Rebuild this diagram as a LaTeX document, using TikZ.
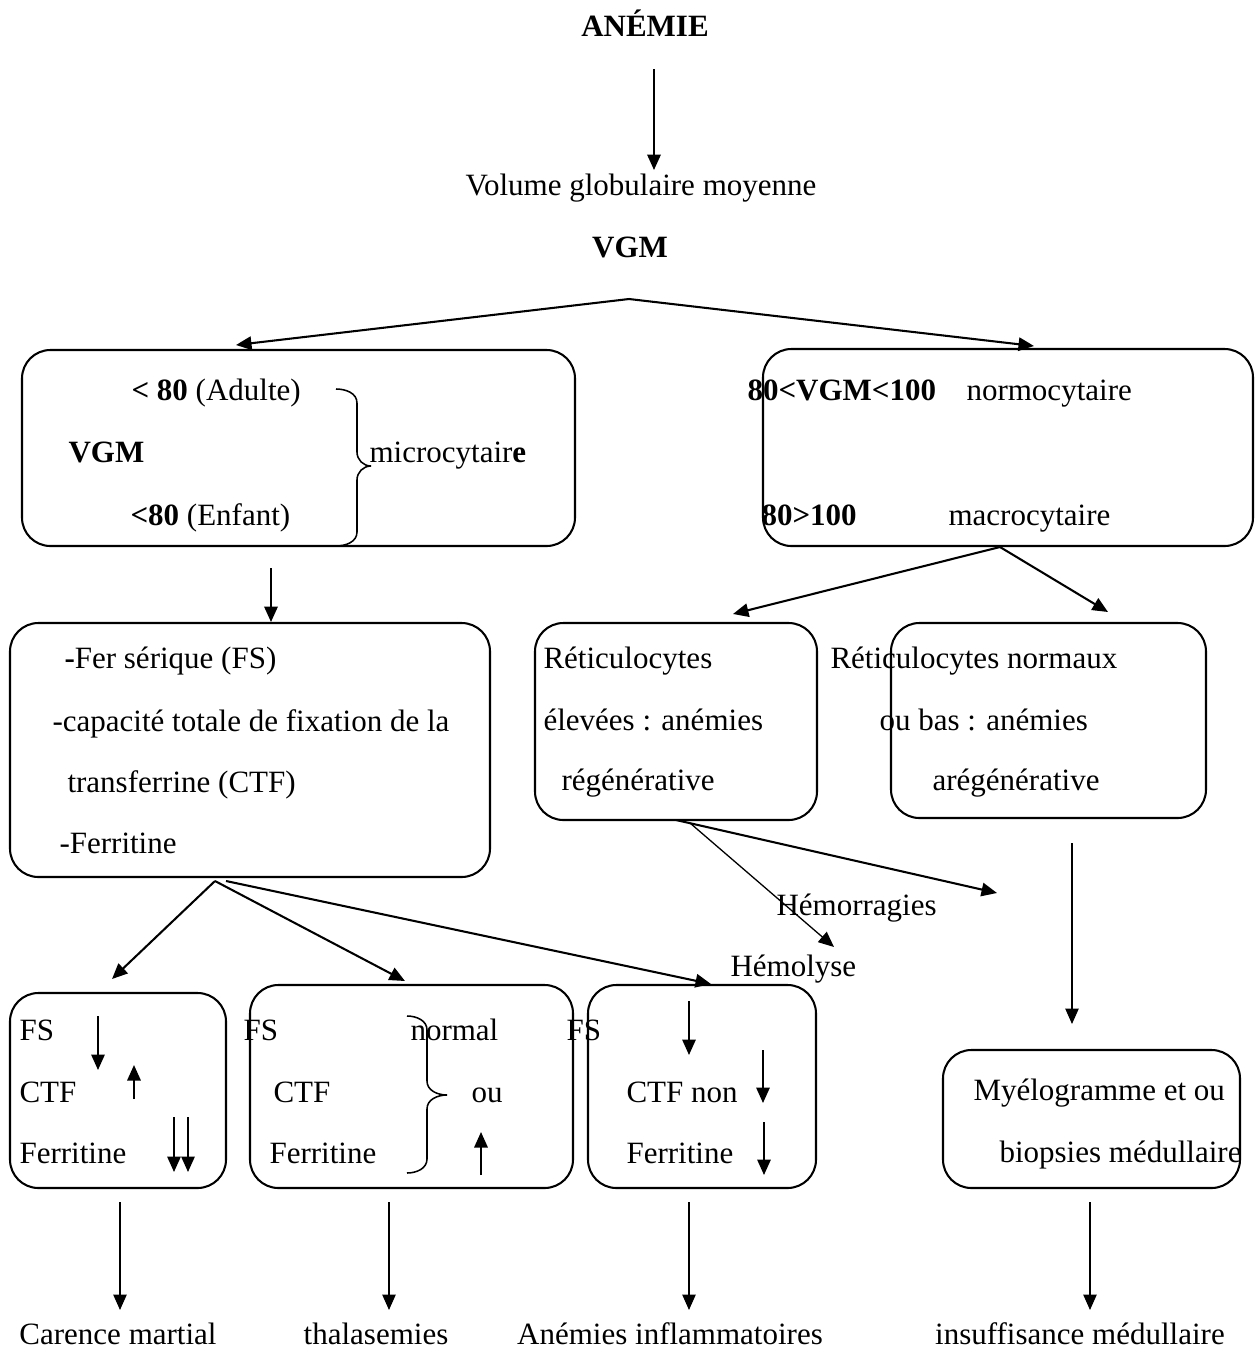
\documentclass[tikz,border=0pt]{standalone}
\usepackage{fontspec}
\setmainfont{Liberation Serif}
\usetikzlibrary{arrows.meta,fit}

\tikzset{
  boite/.style={draw,line width=0.8pt,rounded corners=11pt,inner sep=0pt},
  fleche/.style={line width=0.8pt,-{Triangle[length=6pt,width=5.2pt]}},
  mince/.style={fleche,line width=0.5pt},
  txt/.style={inner sep=0pt,anchor=base west,font=\fontsize{12}{14}\selectfont},
  titre/.style={txt,anchor=base},
  accolade/.style={line width=0.6pt},
}

\begin{document}
\begin{tikzpicture}[x=0.387pt,y=-0.387pt]
\useasboundingbox (0,0) rectangle (1256,1353);

% en-tete
\node[titre] (anemie) at (645,36) {\textbf{ANÉMIE}};
\node[titre] (volume) at (641,195) {Volume globulaire moyenne};
\node[titre] (vgm) at (630,257) {\textbf{VGM}};
\coordinate (a1) at (654,69);
\coordinate (a2) at (654,170);
\draw[fleche] (a1) -- (a2);

% branches du VGM
\coordinate (sommet) at (629,299);
\coordinate (vmicro) at (236,345);
\coordinate (vmacro) at (1034,346);
\draw[fleche] (sommet) -- (vmicro);
\draw[fleche] (sommet) -- (vmacro);

% microcytaire
\node[boite,fit={(22,350) (575,546)}] (micro) {};
\node[txt] (adulte) at (131,400) {\textbf{< 80} (Adulte)};
\node[txt] (vgmg) at (68,462) {\textbf{VGM}};
\node[txt] (enfant) at (130,525) {\textbf{<80} (Enfant)};
\node[txt] (microtxt) at (369,462) {microcytair\textbf{e}};
\draw[accolade] (336,389) to[out=0,in=90] (357,403) -- (357,452)
  to[out=-90,in=180] (371,466) to[out=180,in=90] (357,480) -- (357,532)
  to[out=-90,in=0] (336,546);

% normocytaire / macrocytaire
\node[boite,fit={(763,349) (1253,546)}] (macro) {};
\node[txt] (normo) at (747,400) {\textbf{80<VGM<100}};
\node[txt] (normotxt) at (966,400) {normocytaire};
\node[txt] (cent) at (761,525) {\textbf{80>100}};
\node[txt] (macrotxt) at (948,525) {macrocytaire};

% bilan martial
\coordinate (b1) at (271,568);
\coordinate (b2) at (271,622);
\draw[fleche] (b1) -- (b2);
\node[boite,fit={(10,623) (490,877)}] (fer) {};
\node[txt] (fer1) at (64,668) {\textbf{-}Fer sérique (FS)};
\node[txt] (fer2) at (52,731) {-capacité totale de fixation de la};
\node[txt] (fer3) at (67,792) {transferrine (CTF)};
\node[txt] (fer4) at (59,853) {-Ferritine};

% reticulocytes
\coordinate (pied) at (1000,547);
\coordinate (vregen) at (733,614);
\coordinate (varegen) at (1108,612);
\draw[fleche] (pied) -- (vregen);
\draw[fleche] (pied) -- (varegen);
\node[boite,fit={(535,623) (817,820)}] (regen) {};
\node[txt] (reg1) at (543,668) {Réticulocytes};
\node[txt] (reg2) at (543,730) {élevées : anémies};
\node[txt] (reg3) at (561,790) {régénérative};
\node[boite,fit={(891,623) (1206,818)}] (aregen) {};
\node[txt] (areg1) at (830,668) {Réticulocytes normaux};
\node[txt] (areg2) at (879,730) {ou bas : anémies};
\node[txt] (areg3) at (932,790) {arégénérative};

% causes regeneratives
\coordinate (r1) at (676,820);
\coordinate (r2) at (690,823);
\coordinate (hemo) at (997,893);
\coordinate (lyse) at (834,947);
\draw[fleche] (r1) -- (hemo);
\draw[mince] (r2) -- (lyse);
\node[txt] (hemorragies) at (776,915) {Hémorragies};
\node[txt] (hemolyse) at (730,976) {Hémolyse};

% vers le myelogramme
\coordinate (m1) at (1072,843);
\coordinate (m2) at (1072,1024);
\draw[mince] (m1) -- (m2);

% trois profils
\coordinate (f1) at (215,881);
\coordinate (f2) at (226,881);
\coordinate (vcarence) at (112,979);
\coordinate (vthala) at (405,981);
\coordinate (vinflam) at (711,984);
\draw[fleche] (f1) -- (vcarence);
\draw[fleche] (f1) -- (vthala);
\draw[fleche] (f2) -- (vinflam);

\node[boite,fit={(10,993) (226,1188)}] (carence) {};
\node[txt] at (19,1040) {FS};
\node[txt] at (19,1102) {CTF};
\node[txt] at (19,1163) {Ferritine};

\node[boite,fit={(250,985) (573,1188)}] (thala) {};
\node[txt] at (243,1040) {FS};
\node[txt] at (410,1040) {normal};
\node[txt] at (273,1102) {CTF};
\node[txt] at (471,1102) {ou};
\node[txt] at (269,1163) {Ferritine};
\draw[accolade] (407,1016) to[out=0,in=90] (427,1030) -- (427,1081)
  to[out=-90,in=180] (447,1095) to[out=180,in=90] (427,1109) -- (427,1159)
  to[out=-90,in=0] (407,1173);

\node[boite,fit={(588,985) (816,1188)}] (inflam) {};
\node[txt] at (566,1040) {FS};
\node[txt] at (626,1102) {CTF non};
\node[txt] at (626,1163) {Ferritine};

\node[boite,fit={(943,1050) (1240,1188)}] (myelo) {};
\node[txt] at (973,1100) {Myélogramme et ou};
\node[txt] at (999,1162) {biopsies médullaire};

% fleches hausse / baisse
\foreach \x/\ya/\yb in {98/1016/1070, 134/1099/1065, 174/1117/1172, 188/1117/1172,
  481/1175/1132, 689/1001/1055, 763/1050/1103, 764/1122/1175}{
  \draw[fleche,line width=0.7pt] (\x,\ya) -- (\x,\yb);
}

% diagnostics
\foreach \n/\x/\lx/\t in {1/120/118/Carence martial, 2/389/376/thalasemies,
  3/689/670/Anémies inflammatoires, 4/1090/1080/insuffisance médullaire}{
  \coordinate (h\n) at (\x,1202);
  \coordinate (d\n) at (\x,1310);
  \draw[mince] (h\n) -- (d\n);
  \node[titre] (diag\n) at (\lx,1344) {\t};
}
\end{tikzpicture}
\end{document}
